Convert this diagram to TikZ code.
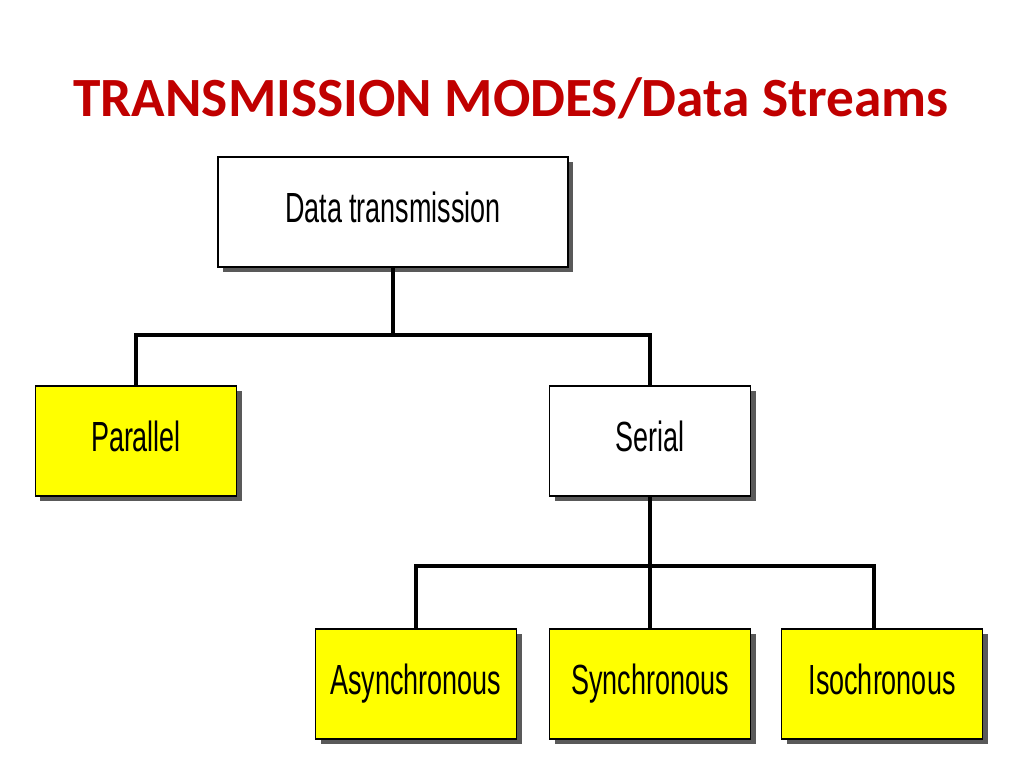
\documentclass[tikz,border=0pt]{standalone}
\usepackage{fontspec}
\setmainfont{Liberation Sans}[FakeStretch=0.64]
\newfontfamily\titlefont{Carlito}
\usetikzlibrary{shadows}
\definecolor{boxyellow}{RGB}{255,255,0}
\definecolor{titlered}{RGB}{192,0,0}
\tikzset{
  modebox/.style={rectangle, draw, thick, fill=white,
    minimum width=201*0.02cm, minimum height=110*0.02cm,
    text height=0.45cm, text depth=0.04cm,
    font=\fontsize{24}{26}\selectfont,
    drop shadow={shadow xshift=0.1cm, shadow yshift=-0.1cm, fill=black!65, opacity=1}},
  leafbox/.style={modebox, fill=boxyellow},
  link/.style={line width=2pt}
}
\begin{document}
\begin{tikzpicture}[x=0.02cm, y=-0.02cm]
\useasboundingbox (0,0) rectangle (1024,768);

\node[text=titlered, font=\titlefont\bfseries\fontsize{31.5}{34}\selectfont] (title) at (511,98) {TRANSMISSION MODES/Data Streams};

\node[modebox, minimum width=350*0.02cm] (data) at (393,212) {Data transmission};
\node[leafbox] (parallel) at (136,441) {Parallel};
\node[modebox] (serial) at (650,441) {Serial};
\node[leafbox] (async) at (416,684) {Asynchronous};
\node[leafbox] (sync) at (650,684) {Synchronous};
\node[leafbox] (iso) at (882,684) {Isochronous};

\coordinate (j1) at (393,335);
\coordinate (j2) at (650,566);
\coordinate (j3) at (874,566);

\draw[link] (data.south) -- (j1);
\draw[link] (parallel.north) |- (j1) -| (serial.north);
\draw[link] (serial.south) -- (j2);
\draw[link] (async.north) |- (j3) -- (j3 |- iso.north);
\draw[link] (j2) -- (sync.north);
\end{tikzpicture}
\end{document}
